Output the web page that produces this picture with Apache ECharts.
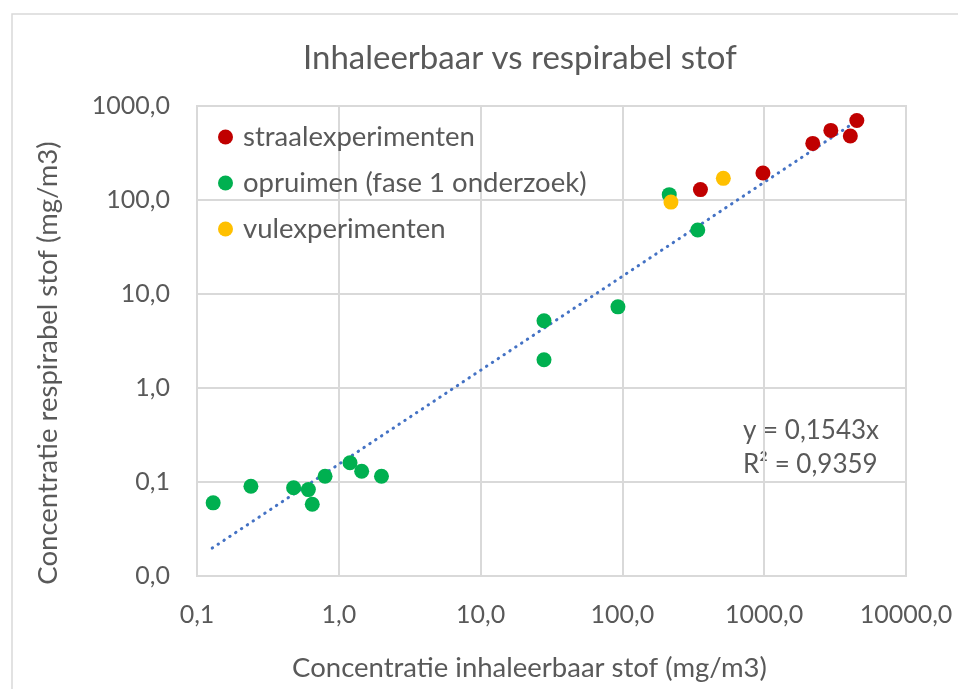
<!DOCTYPE html>
<html>
<head>
<meta charset="utf-8">
<script src="https://cdn.jsdelivr.net/npm/echarts@6/dist/echarts.min.js"></script>
<style>
  html, body { margin: 0; padding: 0; background: #fff; }
  #chart { width: 958px; height: 689px; }
</style>
</head>
<body>
<div id="chart"></div>
<script>
// data: [inhalable, respirable] in mg/m3
const straalX = [355, 980, 2200, 2950, 4050, 4500];
const straalY = [129, 194, 400, 550, 480, 700];

const opruimenX = [0.13, 0.24, 0.48, 0.61, 0.65, 0.8, 1.2, 1.45, 2.0, 28, 28, 93, 214, 340];
const opruimenY = [0.06, 0.09, 0.087, 0.083, 0.058, 0.115, 0.16, 0.13, 0.115, 5.2, 2.0, 7.3, 114, 48];

const vulX = [220, 515];
const vulY = [95, 170];

// trendline end points (y = 0,1543x)
const trendX = [0.128, 4500];
const trendY = [0.0198, 694];

const seriesNames = ['straalexperimenten', 'opruimen (fase 1 onderzoek)', 'vulexperimenten'];
const equationLines = ['y = 0,1543x', 'R² = 0,9359'];

function pairs(xs, ys) {
  return xs.map((x, i) => [x, ys[i]]);
}

const fontFam = 'Lato, "Open Sans", sans-serif';
const txtColor = '#595959';
const gridColor = '#d9d9d9';

let chart = echarts.init(document.getElementById('chart'));

const options = {
  animation: false,
  backgroundColor: '#fff',
  textStyle: { fontFamily: fontFam },
  title: {
    text: 'Inhaleerbaar vs respirabel stof',
    left: 298,
    top: 37,
    textStyle: { fontSize: 33, fontWeight: 'normal', color: txtColor, fontFamily: fontFam }
  },
  legend: {
    data: seriesNames,
    orient: 'vertical',
    left: 218,
    top: 123,
    padding: 0,
    icon: 'circle',
    itemWidth: 15,
    itemHeight: 15,
    itemGap: 18,
    textStyle: { fontSize: 27.5, color: txtColor, fontFamily: fontFam, padding: [0, 0, 0, 5] }
  },
  grid: {
    left: 197,
    top: 106,
    right: 52,
    bottom: 113,
    show: true,
    borderColor: gridColor,
    borderWidth: 2
  },
  xAxis: {
    type: 'log',
    logBase: 10,
    min: 0.1,
    max: 10000,
    name: 'Concentratie inhaleerbaar stof (mg/m3)',
    nameLocation: 'middle',
    nameGap: 78,
    nameTextStyle: { fontSize: 27.5, color: txtColor, fontFamily: fontFam, padding: [0, 44, 0, 0] },
    axisLine: { show: false },
    axisTick: { show: false },
    axisLabel: {
      fontSize: 25,
      color: txtColor,
      margin: 26,
      formatter: v => v.toFixed(1).replace('.', ',')
    },
    splitLine: { show: true, lineStyle: { color: gridColor, width: 2 } }
  },
  yAxis: {
    type: 'log',
    logBase: 10,
    min: 0.01,
    max: 1000,
    name: 'Concentratie respirabel stof (mg/m3)',
    nameLocation: 'middle',
    nameGap: 135,
    nameTextStyle: { fontSize: 27.5, color: txtColor, fontFamily: fontFam, padding: [0, 44, 0, 0] },
    axisLine: { show: false },
    axisTick: { show: false },
    axisLabel: {
      fontSize: 25,
      color: txtColor,
      margin: 27,
      formatter: v => v.toFixed(1).replace('.', ',')
    },
    splitLine: { show: true, lineStyle: { color: gridColor, width: 2 } }
  },
  series: [
    {
      name: 'trendlijn',
      type: 'line',
      data: pairs(trendX, trendY),
      symbol: 'none',
      silent: true,
      z: 1,
      lineStyle: { color: '#4472C4', width: 3, type: [0.5, 6.5], cap: 'round' }
    },
    {
      name: seriesNames[0],
      type: 'scatter',
      data: pairs(straalX, straalY),
      symbolSize: 15,
      itemStyle: { color: '#C00000', opacity: 1 },
      z: 3
    },
    {
      name: seriesNames[1],
      type: 'scatter',
      data: pairs(opruimenX, opruimenY),
      symbolSize: 15,
      itemStyle: { color: '#00B050', opacity: 1 },
      z: 3
    },
    {
      name: seriesNames[2],
      type: 'scatter',
      data: pairs(vulX, vulY),
      symbolSize: 15,
      itemStyle: { color: '#FFC000', opacity: 1 },
      z: 3
    }
  ],
  graphic: [
    {
      type: 'rect',
      shape: { x: 12, y: 14, width: 1000, height: 800 },
      style: { fill: 'none', stroke: gridColor, lineWidth: 1.5 },
      silent: true
    },
    {
      type: 'text',
      left: 743,
      top: 418,
      style: { text: equationLines[0], fontSize: 26, fill: txtColor, fontFamily: fontFam }
    },
    {
      type: 'text',
      left: 743,
      top: 452,
      style: { text: equationLines[1], fontSize: 26, fill: txtColor, fontFamily: fontFam }
    }
  ]
};

chart.setOption(options);
</script>
</body>
</html>
